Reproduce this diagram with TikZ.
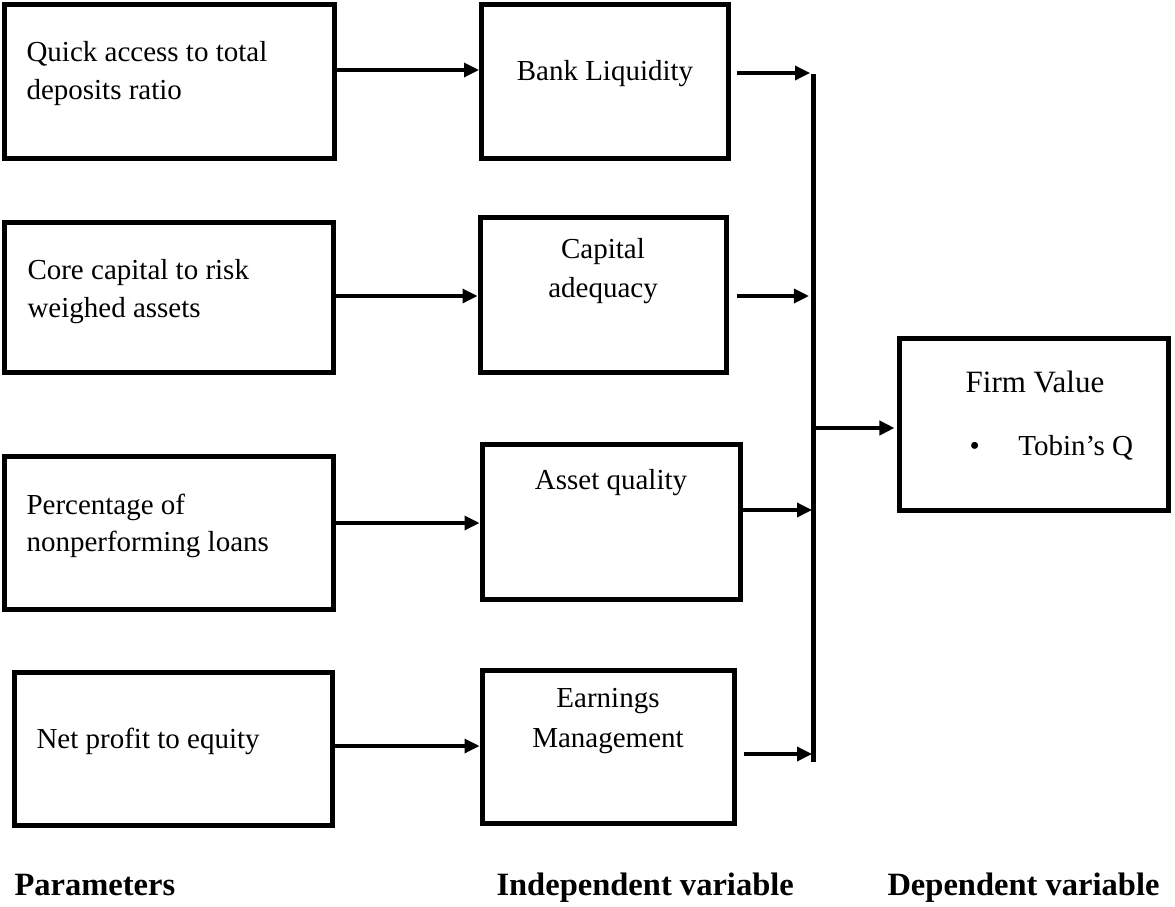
\documentclass[tikz,border=0pt]{standalone}
\usepackage{fontspec}
\setmainfont{Liberation Serif}
\usetikzlibrary{arrows.meta}

\tikzset{every picture/.style={line width=0.75pt}}
\tikzset{
  blk/.style={draw, line width=3.75pt, inner sep=0pt},
  lnk/.style={line width=2.5pt, -{Triangle[length=11.25pt,width=10.5pt]}},
  txt/.style={inner sep=0pt, font=\fontsize{21.75}{28.5}\selectfont},
  hdr/.style={inner sep=0pt, font=\fontsize{24.4}{29}\selectfont\bfseries},
}

\begin{document}
\begin{tikzpicture}[x=0.75pt,y=0.75pt,yscale=-1,xscale=1]
\useasboundingbox (0,0) rectangle (1175,907);

%Shape: Rectangle [parameters]
\node[blk, minimum width=247.5pt, minimum height=115.5pt] (q1) at (169,81) {};
\node[blk, minimum width=247.1pt, minimum height=112.5pt] (q2) at (169.25,297) {};
\node[blk, minimum width=246.75pt, minimum height=115.1pt] (q3) at (168.5,533) {};
\node[blk, minimum width=238.5pt, minimum height=115.1pt] (q4) at (173,748.75) {};
%Shape: Rectangle [independent variables]
\node[blk, minimum width=185.25pt, minimum height=115.5pt] (m1) at (605,81) {};
\node[blk, minimum width=184.5pt, minimum height=116.25pt] (m2) at (603,295) {};
\node[blk, minimum width=193.5pt, minimum height=116.25pt] (m3) at (611,521.5) {};
\node[blk, minimum width=189pt, minimum height=114.75pt] (m4) at (608,746.5) {};
%Shape: Rectangle [dependent variable]
\node[blk, minimum width=202.1pt, minimum height=129pt] (fv) at (1034.25,424.5) {};

% arrow levels and the collector line
\coordinate (y1) at (0,70);
\coordinate (y2) at (0,296);
\coordinate (y3) at (0,523);
\coordinate (y4) at (0,746);
\coordinate (bt) at (813.5,74);
\coordinate (bb) at (813.5,762);
\coordinate (j1) at (813.5,73);
\coordinate (j2) at (813.5,296);
\coordinate (j3) at (813.5,510);
\coordinate (j4) at (813.5,754);
\coordinate (jf) at (813.5,428);

%Straight Lines [parameters to variables]
\draw[lnk] (q1.east |- y1) -- (m1.west |- y1);
\draw[lnk] (q2.east |- y2) -- (m2.west |- y2);
\draw[lnk] (q3.east |- y3) -- (m3.west |- y3);
\draw[lnk] (q4.east |- y4) -- (m4.west |- y4);

%Straight Lines [variables to collector]
\draw[lnk, shorten <=4.3pt, shorten >=2.6pt] (m1.east |- j1) -- (j1);
\draw[lnk, shorten <=6.15pt, shorten >=3.4pt] (m2.east |- j2) -- (j2);
\draw[lnk, shorten >=1.1pt] (m3.east |- j3) -- (j3);
\draw[lnk, shorten <=5.25pt, shorten >=1.1pt] (m4.east |- j4) -- (j4);
\draw[line width=3.2pt] (bt) -- (bb);
\draw[lnk, line width=3pt, shorten >=1.9pt] (jf) -- (fv.west |- jf);

% Text Node
\node[txt, anchor=north west, align=left] (t1) at (26,41.2) {Quick access to total\\deposits ratio};
% Text Node
\node[txt, anchor=north west, align=left, font=\fontsize{21.75}{28.1}\selectfont] (t2) at (27,259.2) {Core capital to risk\\weighed assets};
% Text Node
\node[txt, anchor=north west, align=left, font=\fontsize{21.75}{27.75}\selectfont] (t3) at (26,493.2) {Percentage of\\nonperforming loans};
% Text Node
\node[txt, anchor=base west] (t4) at (36,748) {Net profit to equity};
% Text Node
\node[txt, anchor=base] (t5) at (605,80) {Bank Liquidity};
% Text Node
\node[txt, anchor=north, align=center, font=\fontsize{21.75}{29.25}\selectfont] (t6) at (603,238.2) {Capital\\adequacy};
% Text Node
\node[txt, anchor=base] (t7) at (611,489) {Asset quality};
% Text Node
\node[txt, anchor=north, align=center, font=\fontsize{21.75}{30}\selectfont] (t8) at (608,688.2) {Earnings\\Management};
% Text Node
\node[txt, anchor=base, font=\fontsize{23.25}{28}\selectfont] (t9) at (1035,392) {Firm Value};
% Text Node
\node[txt, anchor=base west] (t10) at (969,455) {\textbullet\hspace{29pt}Tobin’s Q};

% Text Node
\node[hdr, anchor=base west] (h1) at (14,895) {Parameters};
% Text Node
\node[hdr, anchor=base west] (h2) at (496,895) {Independent variable};
% Text Node
\node[hdr, anchor=base west] (h3) at (887,895) {Dependent variable};

\end{tikzpicture}
\end{document}
